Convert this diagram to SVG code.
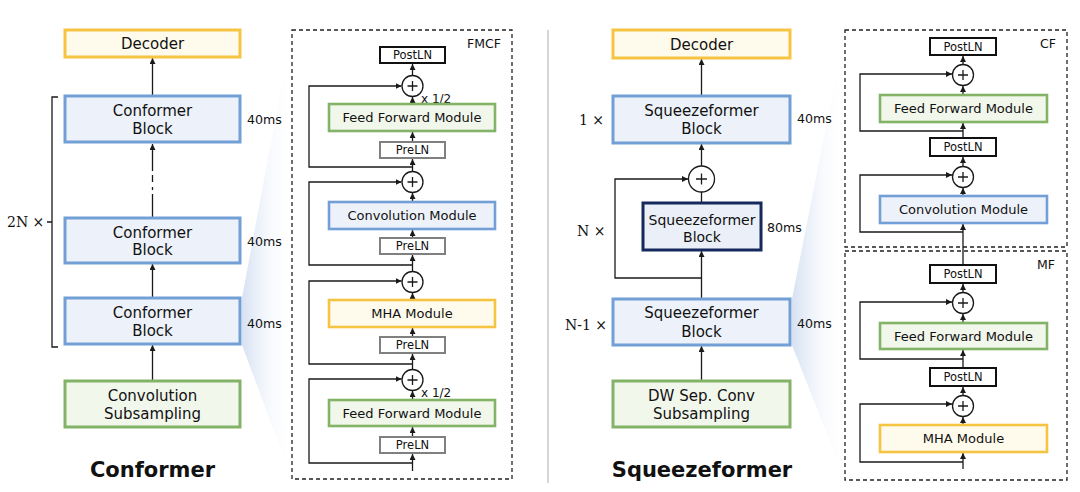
<svg xmlns="http://www.w3.org/2000/svg" width="1080" height="492" viewBox="0 0 1080 492">
<defs>
<marker id="ah" markerUnits="userSpaceOnUse" markerWidth="7" markerHeight="7" refX="6" refY="3" orient="auto">
<path d="M0,0 L6,3 L0,6 z" fill="#1a1a1a"/>
</marker>
<linearGradient id="wl" gradientUnits="userSpaceOnUse" x1="242" y1="0" x2="292" y2="0">
<stop offset="0" stop-color="#d3dff2" stop-opacity="0.95"/>
<stop offset="1" stop-color="#ffffff" stop-opacity="0"/>
</linearGradient>
<linearGradient id="wr" gradientUnits="userSpaceOnUse" x1="792" y1="0" x2="845" y2="0">
<stop offset="0" stop-color="#d3dff2" stop-opacity="0.95"/>
<stop offset="1" stop-color="#ffffff" stop-opacity="0"/>
</linearGradient>
<style>
text{font-family:"DejaVu Sans","Liberation Sans",sans-serif;fill:#111;}
.t15{font-size:15px;text-anchor:middle;}
.t14{font-size:14px;text-anchor:middle;}
.t13{font-size:13px;text-anchor:middle;}
.t12{font-size:11.5px;text-anchor:middle;}
.ms{font-size:12.6px;}
.lab{font-size:12.5px;}
.half{font-size:12px;}
.title{font-size:21px;font-weight:bold;text-anchor:middle;}
.mult{font-family:"DejaVu Serif","Liberation Serif",serif;font-size:14px;}
.yel{fill:#fffbec;stroke:#f5c443;stroke-width:3;}
.blu{fill:#edf2fa;stroke:#729fd5;stroke-width:3;}
.grn{fill:#f2f7ec;stroke:#82b366;stroke-width:3;}
.yelm{fill:#fffbec;stroke:#f5c443;stroke-width:2.6;}
.blum{fill:#edf2fa;stroke:#729fd5;stroke-width:2.6;}
.grnm{fill:#f2f7ec;stroke:#82b366;stroke-width:2.6;}
.navy{fill:#eaeff8;stroke:#15295c;stroke-width:3;}
.pre{fill:#ffffff;stroke:#808080;stroke-width:2;}
.post{fill:#ffffff;stroke:#111;stroke-width:2;}
.dash{fill:none;stroke:#222;stroke-width:1.3;stroke-dasharray:4 3;}
.ln{fill:none;stroke:#1a1a1a;stroke-width:1.3;}
.arr{fill:none;stroke:#1a1a1a;stroke-width:1.3;marker-end:url(#ah);}
.circ{fill:#ffffff;stroke:#1a1a1a;stroke-width:1.3;}
</style>
</defs>
<rect width="1080" height="492" fill="#ffffff"/>

<!-- wedges and divider -->
<polygon points="242,298 292,30 292,479 242,345" fill="url(#wl)"/>
<polygon points="792,299 845,30 845,480 792,345" fill="url(#wr)"/>
<line x1="548" y1="30" x2="548" y2="483" stroke="#c8c8c8" stroke-width="1.5"/>

<!-- dashed containers -->
<g id="fmcf-box">
<rect x="292" y="30" width="220" height="449" class="dash"/>
<text x="467" y="47.5" class="lab">FMCF</text>
</g>
<g id="cf-box">
<rect x="845" y="30" width="222" height="217" class="dash"/>
<text x="1040" y="47.5" class="lab">CF</text>
</g>
<g id="mf-box">
<rect x="845" y="251" width="222" height="229" class="dash"/>
<text x="1037" y="268.5" class="lab">MF</text>
</g>

<!-- connectors -->
<g id="connectors">
<!-- Conformer column -->
<line x1="152.5" y1="96" x2="152.5" y2="58" class="arr"/>
<line x1="152.5" y1="218" x2="152.5" y2="194" class="ln"/>
<line x1="152.5" y1="190" x2="152.5" y2="187" class="ln"/>
<line x1="152.5" y1="182" x2="152.5" y2="175" class="ln"/>
<line x1="152.5" y1="171" x2="152.5" y2="144" class="arr"/>
<line x1="152.5" y1="298" x2="152.5" y2="264" class="arr"/>
<line x1="152.5" y1="381" x2="152.5" y2="345" class="arr"/>
<path d="M58,97 H52 V347 H58 M47,222 H52" class="ln"/>

<!-- FMCF -->
<line x1="412.5" y1="75.5" x2="412.5" y2="64" class="arr"/>
<line x1="412.5" y1="104" x2="412.5" y2="97" class="arr"/>
<line x1="412.5" y1="142" x2="412.5" y2="132" class="arr"/>
<line x1="412.5" y1="171.5" x2="412.5" y2="159" class="arr"/>
<path d="M412.5,167 H309 V86 H401.5" class="arr"/>
<line x1="412.5" y1="202" x2="412.5" y2="193" class="arr"/>
<line x1="412.5" y1="238" x2="412.5" y2="230" class="arr"/>
<line x1="412.5" y1="271.5" x2="412.5" y2="255" class="arr"/>
<path d="M412.5,265 H309 V182 H401.5" class="arr"/>
<line x1="412.5" y1="300" x2="412.5" y2="293" class="arr"/>
<line x1="412.5" y1="337" x2="412.5" y2="328" class="arr"/>
<line x1="412.5" y1="369.5" x2="412.5" y2="354" class="arr"/>
<path d="M412.5,364 H309 V281 H401.5" class="arr"/>
<line x1="412.5" y1="400" x2="412.5" y2="391" class="arr"/>
<line x1="412.5" y1="437" x2="412.5" y2="427" class="arr"/>
<line x1="412.5" y1="471" x2="412.5" y2="454" class="arr"/>
<path d="M412.5,463 H309 V379 H401.5" class="arr"/>

<!-- Squeezeformer column -->
<line x1="701.5" y1="96" x2="701.5" y2="59" class="arr"/>
<line x1="701.5" y1="166" x2="701.5" y2="144" class="arr"/>
<line x1="701.5" y1="203" x2="701.5" y2="192" class="ln"/>
<line x1="701.5" y1="299" x2="701.5" y2="251" class="arr"/>
<path d="M701.5,278 H615 V179 H688" class="arr"/>
<line x1="701.5" y1="381" x2="701.5" y2="346" class="arr"/>

<!-- CF -->
<line x1="963" y1="64.5" x2="963" y2="56" class="arr"/>
<line x1="963" y1="95" x2="963" y2="86" class="arr"/>
<line x1="963" y1="138" x2="963" y2="123" class="arr"/>
<path d="M963,131 H860 V74 H952" class="arr"/>
<line x1="963" y1="166.5" x2="963" y2="157" class="arr"/>
<line x1="963" y1="196" x2="963" y2="188" class="arr"/>
<line x1="963" y1="265" x2="963" y2="224" class="arr"/>
<path d="M963,232 H860 V175 H952" class="arr"/>

<!-- MF -->
<line x1="963" y1="292.5" x2="963" y2="284" class="arr"/>
<line x1="963" y1="323" x2="963" y2="314" class="arr"/>
<line x1="963" y1="368" x2="963" y2="350" class="arr"/>
<path d="M963,359 H860 V302 H952" class="arr"/>
<line x1="963" y1="395.5" x2="963" y2="387" class="arr"/>
<line x1="963" y1="425" x2="963" y2="417" class="arr"/>
<line x1="963" y1="469" x2="963" y2="453" class="arr"/>
<path d="M963,462 H860 V404 H952" class="arr"/>
</g>

<!-- Conformer column nodes -->
<g id="decoder-left">
<rect x="65" y="30" width="175" height="27" class="yel"/>
<text x="152.5" y="49" class="t15">Decoder</text>
</g>
<g id="conformer-block-1">
<rect x="65" y="96" width="175" height="46" class="blu"/>
<text x="152.5" y="116" class="t15">Conformer</text>
<text x="152.5" y="134" class="t15">Block</text>
</g>
<g id="conformer-block-2">
<rect x="65" y="218" width="175" height="45" class="blu"/>
<text x="152.5" y="237.5" class="t15">Conformer</text>
<text x="152.5" y="255" class="t15">Block</text>
</g>
<g id="conformer-block-3">
<rect x="65" y="298" width="175" height="46" class="blu"/>
<text x="152.5" y="317.5" class="t15">Conformer</text>
<text x="152.5" y="336" class="t15">Block</text>
</g>
<g id="conv-subsampling">
<rect x="65" y="381" width="175" height="46" class="grn"/>
<text x="152.5" y="401" class="t15">Convolution</text>
<text x="152.5" y="418.5" class="t15">Subsampling</text>
</g>
<g id="left-labels">
<text x="7" y="227" class="mult">2N ×</text>
<text x="247" y="123.5" class="ms">40ms</text>
<text x="247" y="245.5" class="ms">40ms</text>
<text x="247" y="327.5" class="ms">40ms</text>
<text x="152.5" y="477" class="title">Conformer</text>
</g>

<!-- FMCF nodes -->
<g id="fmcf-postln">
<rect x="380" y="47" width="65" height="16" class="post"/>
<text x="412.5" y="59" class="t12">PostLN</text>
</g>
<g id="fmcf-add-1">
<circle cx="412.5" cy="86" r="10.5" class="circ"/>
<path d="M407.5,86 H417.5 M412.5,81 V91" class="ln"/>
<text x="421" y="103" class="half">x 1/2</text>
</g>
<g id="fmcf-ffm-top">
<rect x="329" y="104" width="166" height="27" class="grnm"/>
<text x="412" y="122" class="t13">Feed Forward Module</text>
</g>
<g id="fmcf-preln-1">
<rect x="380" y="142" width="65" height="16" class="pre"/>
<text x="412.5" y="154" class="t12">PreLN</text>
</g>
<g id="fmcf-add-2">
<circle cx="412.5" cy="182" r="10.5" class="circ"/>
<path d="M407.5,182 H417.5 M412.5,177 V187" class="ln"/>
</g>
<g id="fmcf-conv">
<rect x="329" y="202" width="166" height="27" class="blum"/>
<text x="412" y="220" class="t13">Convolution Module</text>
</g>
<g id="fmcf-preln-2">
<rect x="380" y="238" width="65" height="16" class="pre"/>
<text x="412.5" y="250" class="t12">PreLN</text>
</g>
<g id="fmcf-add-3">
<circle cx="412.5" cy="282" r="10.5" class="circ"/>
<path d="M407.5,282 H417.5 M412.5,277 V287" class="ln"/>
</g>
<g id="fmcf-mha">
<rect x="329" y="300" width="166" height="27" class="yelm"/>
<text x="412" y="318" class="t13">MHA Module</text>
</g>
<g id="fmcf-preln-3">
<rect x="380" y="337" width="65" height="16" class="pre"/>
<text x="412.5" y="349" class="t12">PreLN</text>
</g>
<g id="fmcf-add-4">
<circle cx="412.5" cy="380" r="10.5" class="circ"/>
<path d="M407.5,380 H417.5 M412.5,375 V385" class="ln"/>
<text x="421" y="397" class="half">x 1/2</text>
</g>
<g id="fmcf-ffm-bottom">
<rect x="329" y="400" width="166" height="26" class="grnm"/>
<text x="412" y="417.5" class="t13">Feed Forward Module</text>
</g>
<g id="fmcf-preln-4">
<rect x="380" y="437" width="65" height="16" class="pre"/>
<text x="412.5" y="449" class="t12">PreLN</text>
</g>

<!-- Squeezeformer column nodes -->
<g id="decoder-right">
<rect x="613" y="30" width="177" height="28" class="yel"/>
<text x="701.5" y="49.5" class="t15">Decoder</text>
</g>
<g id="sq-block-top">
<rect x="613" y="96" width="177" height="47" class="blu"/>
<text x="701.5" y="116" class="t15">Squeezeformer</text>
<text x="701.5" y="134" class="t15">Block</text>
</g>
<g id="sq-add">
<circle cx="701.5" cy="179" r="13" class="circ"/>
<path d="M696,179 H707 M701.5,173.5 V184.5" class="ln"/>
</g>
<g id="sq-block-mid">
<rect x="643" y="203" width="118" height="47" class="navy"/>
<text x="702" y="225" class="t14">Squeezeformer</text>
<text x="702" y="242" class="t14">Block</text>
</g>
<g id="sq-block-bottom">
<rect x="613" y="299" width="177" height="46" class="blu"/>
<text x="701.5" y="318" class="t15">Squeezeformer</text>
<text x="701.5" y="336.5" class="t15">Block</text>
</g>
<g id="dw-subsampling">
<rect x="613" y="381" width="177" height="46" class="grn"/>
<text x="701.5" y="400.5" class="t15">DW Sep. Conv</text>
<text x="701.5" y="418.5" class="t15">Subsampling</text>
</g>
<g id="right-labels">
<text x="579" y="125" class="mult">1 ×</text>
<text x="577" y="236" class="mult">N ×</text>
<text x="565" y="330" class="mult">N-1 ×</text>
<text x="797" y="122.5" class="ms">40ms</text>
<text x="767" y="231.5" class="ms">80ms</text>
<text x="797" y="327.5" class="ms">40ms</text>
<text x="702" y="477" class="title">Squeezeformer</text>
</g>

<!-- CF nodes -->
<g id="cf-postln-top">
<rect x="930" y="38" width="66" height="17" class="post"/>
<text x="963" y="50.5" class="t12">PostLN</text>
</g>
<g id="cf-add-1">
<circle cx="963" cy="75" r="10.5" class="circ"/>
<path d="M958,75 H968 M963,70 V80" class="ln"/>
</g>
<g id="cf-ffm">
<rect x="880" y="95" width="167" height="27" class="grnm"/>
<text x="963.5" y="113" class="t13">Feed Forward Module</text>
</g>
<g id="cf-postln-mid">
<rect x="930" y="138" width="66" height="18" class="post"/>
<text x="963" y="151" class="t12">PostLN</text>
</g>
<g id="cf-add-2">
<circle cx="963" cy="177" r="10.5" class="circ"/>
<path d="M958,177 H968 M963,172 V182" class="ln"/>
</g>
<g id="cf-conv">
<rect x="880" y="196" width="167" height="27" class="blum"/>
<text x="963.5" y="214" class="t13">Convolution Module</text>
</g>

<!-- MF nodes -->
<g id="mf-postln-top">
<rect x="930" y="265" width="66" height="18" class="post"/>
<text x="963" y="278" class="t12">PostLN</text>
</g>
<g id="mf-add-1">
<circle cx="963" cy="303" r="10.5" class="circ"/>
<path d="M958,303 H968 M963,298 V308" class="ln"/>
</g>
<g id="mf-ffm">
<rect x="880" y="323" width="167" height="26" class="grnm"/>
<text x="963.5" y="340.5" class="t13">Feed Forward Module</text>
</g>
<g id="mf-postln-mid">
<rect x="930" y="368" width="66" height="18" class="post"/>
<text x="963" y="381" class="t12">PostLN</text>
</g>
<g id="mf-add-2">
<circle cx="963" cy="406" r="10.5" class="circ"/>
<path d="M958,406 H968 M963,401 V411" class="ln"/>
</g>
<g id="mf-mha">
<rect x="880" y="425" width="167" height="27" class="yelm"/>
<text x="963.5" y="443" class="t13">MHA Module</text>
</g>
</svg>
